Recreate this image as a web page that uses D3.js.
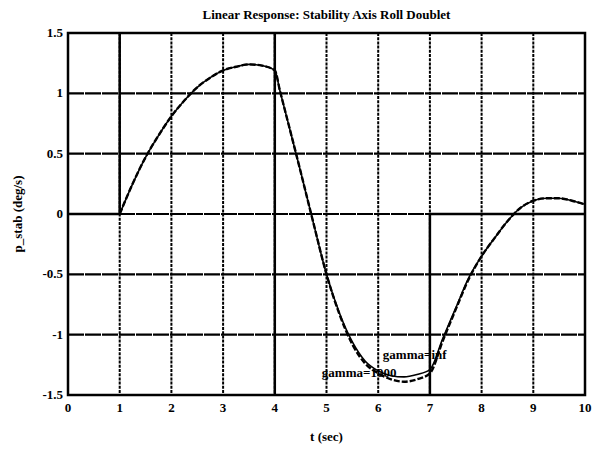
<!DOCTYPE html>
<html>
<head>
<meta charset="utf-8">
<script src="https://cdn.jsdelivr.net/npm/d3@7"></script>
<style>
    body { margin: 0; background: #fff; }
    text { font-family: "Liberation Serif", "DejaVu Serif", serif; font-weight: bold; fill: #000; }
</style>
</head>
<body>
<div id="chart"></div>
<script>
(function()
{
    const W = 592;
    const H = 449;

    // time samples (sec) for the responses
    var timeVals = [1, 1.25, 1.5, 1.75, 2, 2.25, 2.5, 2.75, 3, 3.25, 3.5, 3.75, 4,
        4.1, 4.25, 4.5, 4.75, 5, 5.25, 5.5, 5.75, 6, 6.25, 6.5, 6.75, 7,
        7.25, 7.5, 7.75, 8, 8.25, 8.5, 8.75, 9, 9.25, 9.5, 9.75, 10];
    // p_stab (deg/s), gamma = inf
    var pInf = [0, 0.25, 0.47, 0.65, 0.81, 0.94, 1.05, 1.13, 1.19, 1.22, 1.24, 1.23, 1.19,
        1.02, 0.77, 0.35, -0.08, -0.50, -0.82, -1.06, -1.22, -1.30, -1.34, -1.35, -1.33, -1.29,
        -1.03, -0.78, -0.53, -0.35, -0.20, -0.06, 0.05, 0.11, 0.13, 0.13, 0.11, 0.08];
    // p_stab (deg/s), gamma = 1000
    var p1000 = [0, 0.25, 0.47, 0.65, 0.81, 0.94, 1.05, 1.13, 1.19, 1.22, 1.24, 1.23, 1.19,
        1.02, 0.77, 0.35, -0.08, -0.50, -0.83, -1.08, -1.24, -1.32, -1.37, -1.39, -1.37, -1.32,
        -1.05, -0.79, -0.54, -0.35, -0.20, -0.06, 0.05, 0.11, 0.13, 0.13, 0.11, 0.08];

    // roll doublet input (clipped by the frame)
    var inputT = [0, 1, 1, 4, 4, 7, 7, 10];
    var inputV = [0, 0, 2, 2, -2, -2, 0, 0];

    var xTicks = [0, 1, 2, 3, 4, 5, 6, 7, 8, 9, 10];
    var yTicks = [-1.5, -1, -0.5, 0, 0.5, 1, 1.5];
    var yTickLabels = ["-1.5", "-1", "-0.5", "0", "0.5", "1", "1.5"];

    var labels = [
        {text: "gamma=inf", t: 6.09, v: -1.20},
        {text: "gamma=1000", t: 4.91, v: -1.35}
    ];

    var margin = {left: 68, right: 7, top: 33, bottom: 54};

    var svg = d3.select("#chart").append("svg")
        .attr("width", W)
        .attr("height", H);

    var x = d3.scaleLinear().domain([0, 10]).range([margin.left, W - margin.right]);
    var y = d3.scaleLinear().domain([-1.5, 1.5]).range([H - margin.bottom, margin.top]);

    svg.append("clipPath").attr("id", "plotclip")
        .append("rect")
        .attr("x", x(0)).attr("y", y(1.5))
        .attr("width", x(10) - x(0)).attr("height", y(-1.5) - y(1.5));

    // grid
    svg.append("g").selectAll("line")
        .data(xTicks.slice(1, -1))
        .enter().append("line")
        .attr("x1", d => x(d)).attr("x2", d => x(d))
        .attr("y1", y(1.5)).attr("y2", y(-1.5))
        .attr("stroke", "#000")
        .attr("stroke-width", 2)
        .attr("stroke-dasharray", "3,1.2");

    svg.append("g").selectAll("line")
        .data(yTicks.slice(1, -1))
        .enter().append("line")
        .attr("x1", x(0)).attr("x2", x(10))
        .attr("y1", d => y(d)).attr("y2", d => y(d))
        .attr("stroke", "#000")
        .attr("stroke-width", 2.2)
        .attr("stroke-dasharray", "16,1");

    var plot = svg.append("g").attr("clip-path", "url(#plotclip)");

    // input doublet
    var inputPts = inputT.map((t, i) => [t, inputV[i]]);
    plot.append("path")
        .datum(inputPts)
        .attr("fill", "none")
        .attr("stroke", "#000")
        .attr("stroke-width", 2.5)
        .attr("d", d3.line().x(d => x(d[0])).y(d => y(d[1])));

    var line = d3.line()
        .x(d => x(d[0]))
        .y(d => y(d[1]))
        .curve(d3.curveMonotoneX);

    plot.append("path")
        .datum(timeVals.map((t, i) => [t, pInf[i]]))
        .attr("fill", "none")
        .attr("stroke", "#000")
        .attr("stroke-width", 1.6)
        .attr("d", line);

    plot.append("path")
        .datum(timeVals.map((t, i) => [t, p1000[i]]))
        .attr("fill", "none")
        .attr("stroke", "#000")
        .attr("stroke-width", 2.4)
        .attr("stroke-dasharray", "6,2")
        .attr("d", line);

    // curve labels
    svg.append("g").selectAll("text")
        .data(labels)
        .enter().append("text")
        .attr("x", d => x(d.t))
        .attr("y", d => y(d.v))
        .attr("font-size", 13)
        .text(d => d.text);

    // frame
    svg.append("rect")
        .attr("x", x(0)).attr("y", y(1.5))
        .attr("width", x(10) - x(0)).attr("height", y(-1.5) - y(1.5))
        .attr("fill", "none")
        .attr("stroke", "#000")
        .attr("stroke-width", 2.5);

    // tick labels
    svg.append("g").selectAll("text")
        .data(xTicks)
        .enter().append("text")
        .attr("x", d => x(d))
        .attr("y", y(-1.5) + 17)
        .attr("text-anchor", "middle")
        .attr("font-size", 13)
        .text(d => d);

    svg.append("g").selectAll("text")
        .data(yTicks)
        .enter().append("text")
        .attr("x", x(0) - 5)
        .attr("y", d => y(d) + 4)
        .attr("text-anchor", "end")
        .attr("font-size", 13)
        .text((d, i) => yTickLabels[i]);

    // titles
    svg.append("text")
        .attr("x", (x(0) + x(10)) / 2)
        .attr("y", 19)
        .attr("text-anchor", "middle")
        .attr("font-size", 13)
        .text("Linear Response: Stability Axis Roll Doublet");

    svg.append("text")
        .attr("x", (x(0) + x(10)) / 2)
        .attr("y", 441)
        .attr("text-anchor", "middle")
        .attr("font-size", 13)
        .text("t (sec)");

    svg.append("text")
        .attr("transform", "translate(22," + ((y(1.5) + y(-1.5)) / 2) + ") rotate(-90)")
        .attr("text-anchor", "middle")
        .attr("font-size", 13)
        .text("p_stab (deg/s)");
})();
</script>
</body>
</html>
